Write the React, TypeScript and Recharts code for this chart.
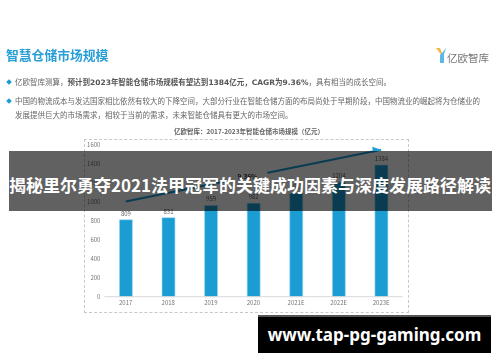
import React from "react";
import {
  ComposedChart,
  Bar,
  Line,
  XAxis,
  YAxis,
  LabelList,
  ReferenceDot,
} from "recharts";

const years = ["2017", "2018", "2019", "2020", "2021E", "2022E", "2023E"];
const marketSize = [809, 831, 959, 982, 1085, 1204, 1384];
// trend arrow over the bars, only the two ends have a value
const trendValues = [1000, null, null, null, null, null, 1544];
const yTicks = [0, 200, 400, 600, 800, 1000, 1200, 1400, 1600];

const chartData = years.map((year, i) => ({
  year,
  size: marketSize[i],
  trend: trendValues[i],
}));

const CJK = '"Noto Sans CJK SC", "Noto Sans", sans-serif';
const BLUE = "#1b9dd4";

const ArrowDot = (props: any) => {
  const { cx, cy, index } = props;
  if (index !== years.length - 1) return <g key={index} />;
  return (
    <polygon
      key={index}
      points={`${cx - 1},${cy - 0.3} ${cx - 9},${cy - 3} ${cx - 8},${cy + 3}`}
      fill={BLUE}
    />
  );
};

const CagrLabel = (props: any) => {
  const { cx, cy } = props;
  return (
    <g>
      <rect x={cx - 26} y={cy - 6} width={40} height={12} fill="#fff" />
      <text
        x={cx - 6}
        y={cy + 2}
        textAnchor="middle"
        fontSize={6.5}
        fontWeight={700}
        fontFamily={CJK}
        fill="#333"
      >
        9.36%
      </text>
    </g>
  );
};

const textLine = (top: number, left: number, content: React.ReactNode) => (
  <div
    style={{
      position: "absolute",
      top,
      left,
      fontSize: 7.5,
      lineHeight: "10px",
      color: "#666",
      whiteSpace: "nowrap",
    }}
  >
    {content}
  </div>
);

const diamond = (top: number) => (
  <div
    style={{
      position: "absolute",
      top,
      left: 7,
      width: 4,
      height: 4,
      background: BLUE,
      transform: "rotate(45deg)",
    }}
  />
);

export default function App() {
  return (
    <div
      style={{
        position: "absolute",
        left: 0,
        top: 0,
        width: 500,
        height: 362,
        overflow: "hidden",
        background: "#fff",
        fontFamily: CJK,
      }}
    >
      <div
        style={{
          position: "absolute",
          inset: 0,
          filter: "blur(0.4px)",
        }}
      >
        <div
          style={{
            position: "absolute",
            left: 6,
            top: 46,
            fontSize: 12.8,
            lineHeight: "18px",
            fontWeight: 700,
            color: "#2a9fd6",
            whiteSpace: "nowrap",
          }}
        >
          智慧仓储市场规模
        </div>

        <svg
          style={{ position: "absolute", left: 435, top: 47 }}
          width={12}
          height={17}
        >
          <path d="M1 1 L5 1 L7 6 L7 9 Z" fill="#f0b849" />
          <path d="M11 1 L7 6 L5 8 L5 16 L9 16 L9 7 Z" fill="#5cb8e6" />
        </svg>
        <div
          style={{
            position: "absolute",
            left: 447,
            top: 51,
            fontSize: 10.5,
            lineHeight: "13px",
            color: "#777",
            whiteSpace: "nowrap",
          }}
        >
          亿欧智库
        </div>

        {diamond(80)}
        {textLine(
          77,
          15,
          <>
            亿欧智库测算，
            <b
              style={{
                color: "#555",
                fontFamily: '"DejaVu Sans", "Noto Sans CJK SC", sans-serif',
              }}
            >
              <span style={{ fontFamily: CJK }}>预计到</span>2023
              <span style={{ fontFamily: CJK }}>
                年智能仓储市场规模有望达到
              </span>
              1384
              <span style={{ fontFamily: CJK }}>亿元，</span>CAGR
              <span style={{ fontFamily: CJK }}>为</span>9.36%
            </b>
            ，具有相当的成长空间。
          </>
        )}
        {diamond(98.5)}
        {textLine(
          96,
          15,
          "中国的物流成本与发达国家相比依然有较大的下降空间，大部分行业在智能仓储方面的布局尚处于早期阶段，中国物流业的崛起将为仓储业的"
        )}
        {textLine(
          110,
          15,
          "发展提供巨大的市场需求，相较于当前的需求，未来智能仓储具有更大的市场空间。"
        )}

        <div
          style={{
            position: "absolute",
            left: 0,
            width: 498,
            top: 127,
            textAlign: "center",
            fontSize: 6.5,
            lineHeight: "9px",
            fontWeight: 700,
            color: "#666",
            whiteSpace: "nowrap",
          }}
        >
          亿欧智库：2017-2023年智能仓储市场规模（亿元）
        </div>

        <div
          style={{
            position: "absolute",
            left: 84,
            top: 139,
            width: 323,
            height: 172,
            border: "1px dashed #c8c8c8",
          }}
        />

        <div style={{ position: "absolute", left: 0, top: 0 }}>
          <ComposedChart
            width={500}
            height={362}
            data={chartData}
            margin={{ top: 144.5, right: 97.5, bottom: 45.3, left: 60 }}
          >
            <XAxis
              dataKey="year"
              height={20}
              tickLine={false}
              tickSize={0}
              tickMargin={4}
              axisLine={{ stroke: "#d9d9d9" }}
              tick={{ fontSize: 6, fill: "#777" }}
              interval={0}
            />
            <YAxis
              width={44.4}
              domain={[0, 1600]}
              ticks={yTicks}
              axisLine={false}
              tickLine={false}
              tickSize={0}
              tickMargin={4}
              tick={{ fontSize: 6, fill: "#777" }}
            />
            <Bar
              dataKey="size"
              barSize={13}
              fill={BLUE}
              stroke="#a6dcf1"
              strokeWidth={0.6}
              isAnimationActive={false}
            >
              <LabelList
                dataKey="size"
                position="top"
                offset={4}
                fontSize={6}
                fill="#666"
              />
            </Bar>
            <Line
              dataKey="trend"
              connectNulls
              stroke={BLUE}
              strokeWidth={2}
              dot={ArrowDot}
              activeDot={false}
              isAnimationActive={false}
            />
            <ReferenceDot x="2020" y={1262} r={0} shape={CagrLabel} />
          </ComposedChart>
        </div>
      </div>

      <div
        style={{
          position: "absolute",
          left: 9,
          top: 151,
          width: 483,
          height: 60,
          background: "rgba(0,0,0,0.62)",
        }}
      />
      <div
        style={{
          position: "absolute",
          left: 0,
          width: 500,
          top: 172,
          textAlign: "center",
          fontSize: 17,
          lineHeight: "26px",
          fontWeight: 700,
          color: "#fff",
          whiteSpace: "nowrap",
        }}
      >
        揭秘里尔勇夺2021法甲冠军的关键成功因素与深度发展路径解读
      </div>

      <div
        style={{
          position: "absolute",
          left: 258,
          top: 315,
          width: 233,
          height: 38,
          background: "#000",
          borderTop: "2px solid #555",
          boxSizing: "border-box",
          color: "#fff",
          fontFamily: '"Noto Sans", sans-serif',
          fontWeight: 700,
          fontSize: 17,
          lineHeight: "36px",
          textAlign: "center",
          whiteSpace: "nowrap",
        }}
      >
        www.tap-pg-gaming.com
      </div>
    </div>
  );
}
